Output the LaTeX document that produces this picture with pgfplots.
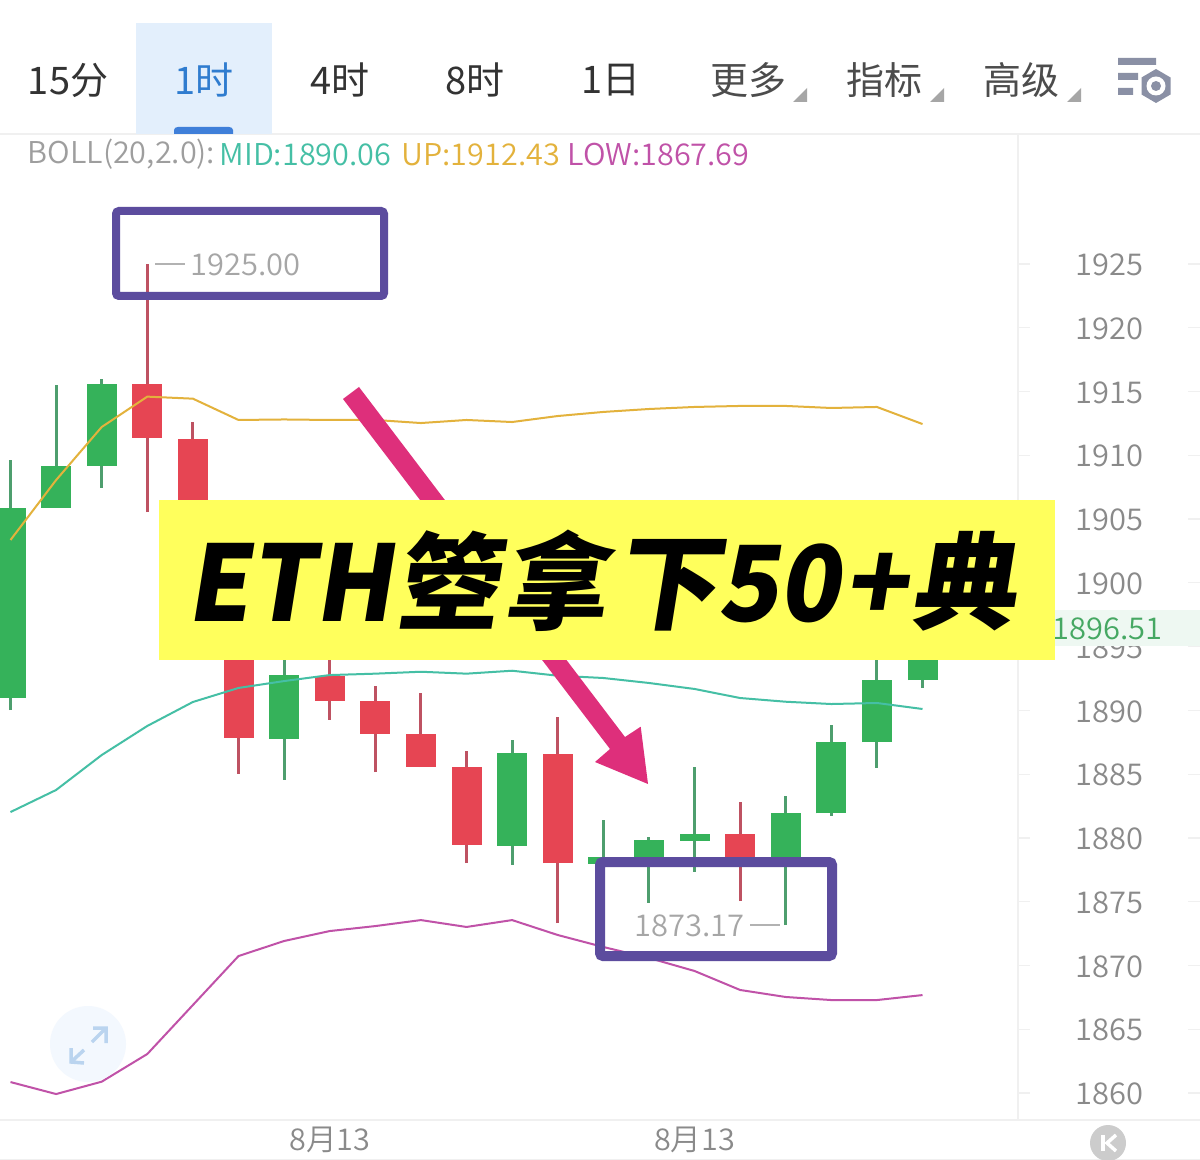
\documentclass[border=0pt]{standalone}
\usepackage{fontspec}
\usepackage{pgfplots}
\pgfplotsset{compat=1.18}
\setmainfont{Noto Sans CJK SC}
\newfontfamily\ui[FakeStretch=1.03]{Noto Sans CJK SC DemiLight}
\newfontfamily\uiw[FakeStretch=1.02]{Noto Sans CJK SC DemiLight}
\newfontfamily\tabf{Noto Sans CJK SC}
\newfontfamily\banner[FakeSlant=0.16]{Noto Sans CJK SC Black}
\newfontfamily\bannerL[FakeSlant=0.16,FakeStretch=0.955]{Noto Sans CJK SC Black}
\newcommand\fs[1]{\fontsize{\dimexpr#1pt*2845/10000\relax}{\dimexpr#1pt*2845/10000\relax}\selectfont}
\newcommand\pxk[1]{\kern\dimexpr#1pt*2845/10000\relax}
\definecolor{cgreen}{HTML}{35B25A}
\definecolor{cgreenw}{HTML}{4E9E6E}
\definecolor{cred}{HTML}{E64553}
\definecolor{credw}{HTML}{BE5262}
\definecolor{cup}{HTML}{E3B23C}
\definecolor{cmid}{HTML}{45BFA5}
\definecolor{clow}{HTML}{C052A8}
\definecolor{cframe}{HTML}{5C4C9E}
\definecolor{carrow}{HTML}{DE2F7B}
\definecolor{cyel}{HTML}{FFFF5C}
\definecolor{ctab}{HTML}{E3EFFC}
\definecolor{cblue}{HTML}{2F7CCF}
\definecolor{cind}{HTML}{3F7FD9}
\definecolor{ctag}{HTML}{EEF8F2}
\definecolor{ctick}{HTML}{8A8A8A}
\definecolor{cline}{HTML}{F0F0F0}
\definecolor{cicon}{HTML}{8A90A5}
% x, high, body top, body bottom, low, body colour, wick colour
\newcommand\candle[7]{%
  \addplot[forget plot,#7,line width=0.3mm,line cap=butt] coordinates {(#1,#5)(#1,#2)};
  \addplot[forget plot,#6,line width=3mm,line cap=butt] coordinates {(#1,#4)(#1,#3)};}
\begin{document}
\begin{tikzpicture}
\useasboundingbox (0,0) rectangle (120mm,116mm);
\fill[white] (0,0) rectangle (120mm,116mm);
\begin{axis}[
  at={(0,0)},anchor=south west,
  width=120mm,height=116mm,scale only axis,
  xmin=-0.2303,xmax=26.085,ymin=1854.75,ymax=1945.70,
  axis line style={draw=none},major tick length=0pt,
  ytick={1860,1865,1870,1875,1880,1885,1890,1895,1900,1905,1910,1915,1920,1925},
  yticklabels={1860,1865,1870,1875,1880,1885,1890,1895,1900,1905,1910,1915,1920,1925},
  yticklabel pos=right,
  yticklabel style={anchor=east,xshift=-4.4mm,yshift=-0.1mm,font=\ui\fs{30},text=ctick},
  xtick={7,15},xticklabels={8月13,8月13},
  xticklabel style={anchor=center,yshift=2mm,font=\uiw\fs{30},text=ctick},
]
\candle{0}{1909.63}{1905.89}{1890.97}{1890.03}{cgreen}{cgreenw}
\candle{1}{1915.54}{1909.19}{1905.87}{1905.87}{cgreen}{cgreenw}
\candle{2}{1915.98}{1915.59}{1909.19}{1907.46}{cgreen}{cgreenw}
\candle{3}{1925.00}{1915.59}{1911.36}{1905.55}{cred}{credw}
\candle{4}{1912.61}{1911.30}{1898.66}{1898.00}{cred}{credw}
\candle{5}{1899.00}{1898.66}{1887.84}{1885.04}{cred}{credw}
\candle{6}{1895.52}{1892.77}{1887.78}{1884.57}{cgreen}{cgreenw}
\candle{7}{1895.52}{1892.72}{1890.74}{1889.27}{cred}{credw}
\candle{8}{1891.91}{1890.74}{1888.17}{1885.17}{cred}{credw}
\candle{9}{1891.36}{1888.15}{1885.58}{1885.55}{cred}{credw}
\candle{10}{1886.82}{1885.56}{1879.45}{1878.03}{cred}{credw}
\candle{11}{1887.68}{1886.66}{1879.37}{1877.88}{cgreen}{cgreenw}
\candle{12}{1889.48}{1886.58}{1878.03}{1873.33}{cred}{credw}
\candle{13}{1881.41}{1878.50}{1877.96}{1877.96}{cgreen}{cgreenw}
\candle{14}{1880.10}{1879.84}{1878.27}{1874.90}{cgreen}{cgreenw}
\candle{15}{1885.56}{1880.33}{1879.78}{1877.33}{cgreen}{cgreenw}
\candle{16}{1882.84}{1880.31}{1878.27}{1875.05}{cred}{credw}
\candle{17}{1883.29}{1881.95}{1878.27}{1873.17}{cgreen}{cgreenw}
\candle{18}{1888.88}{1887.54}{1881.93}{1881.74}{cgreen}{cgreenw}
\candle{19}{1895.52}{1892.38}{1887.52}{1885.51}{cgreen}{cgreenw}
\candle{20}{1897.00}{1896.51}{1892.38}{1891.78}{cgreen}{cgreenw}
\addplot[cup,line width=0.2mm] coordinates {
(0,1903.36)(1,1908.06)(2,1912.22)(3,1914.60)(4,1914.44)(5,1912.77)(6,1912.81)
(7,1912.77)(8,1912.77)(9,1912.53)(10,1912.77)(11,1912.61)(12,1913.08)(13,1913.40)
(14,1913.63)(15,1913.79)(16,1913.87)(17,1913.87)(18,1913.71)(19,1913.79)(20,1912.45)};
\addplot[cmid,line width=0.2mm] coordinates {
(0,1882.03)(1,1883.76)(2,1886.50)(3,1888.78)(4,1890.66)(5,1891.76)(6,1892.30)
(7,1892.77)(8,1892.88)(9,1893.03)(10,1892.88)(11,1893.11)(12,1892.72)(13,1892.54)
(14,1892.15)(15,1891.68)(16,1890.97)(17,1890.68)(18,1890.50)(19,1890.58)(20,1890.11)};
\addplot[clow,line width=0.2mm] coordinates {
(0,1860.86)(1,1859.92)(2,1860.89)(3,1863.06)(4,1866.90)(5,1870.74)(6,1871.92)
(7,1872.70)(8,1873.09)(9,1873.56)(10,1873.02)(11,1873.56)(12,1872.39)(13,1871.45)
(14,1870.59)(15,1869.57)(16,1868.08)(17,1867.53)(18,1867.29)(19,1867.29)(20,1867.68)};
\end{axis}
\begin{scope}[x=0.1mm,y=-0.1mm,shift={(0,116mm)}]
% grid furniture
\draw[cline,line width=0.12mm] (0,134)--(1200,134) (1018,134)--(1018,1120) (0,1120)--(1200,1120) (0,1159.5)--(1200,1159.5);
\foreach \y in {264,327.8,391.5,455.3,519.1,582.9,646.6,710.4,774.2,838,901.7,965.5,1029.3,1093}
  \draw[cline,line width=0.12mm] (1018,\y)--(1030,\y) (1188,\y)--(1200,\y);
% tabs
\fill[ctab] (136,23) rectangle (272,134);
\fill[cind] (174,134) -- (174,130) to[out=90,in=180] (178,127) -- (229,127) to[out=0,in=90] (233,130) -- (233,134) -- cycle;
\begin{scope}[every node/.style={inner sep=0,anchor=center,font=\tabf\fs{38}}]
\node[text=black!80] at (68,80) {15分};
\node[text=cblue] at (204,80) {1时};
\node[text=black!80] at (340,80) {4时};
\node[text=black!80] at (475,80) {8时};
\node[text=black!80] at (611,80) {1日};
\node[text=black!70] at (748,80) {更多};
\node[text=black!70] at (884,80) {指标};
\node[text=black!70] at (1021,80) {高级};
\end{scope}
\foreach \x in {793,930,1067}
  \fill[black!35] (\x,102)--(\x+14,102)--(\x+14,88)--cycle;
% settings icon
\fill[cicon] (1118,58) rectangle (1156,65) (1118,73) rectangle (1138,80) (1118,88) rectangle (1133,95);
\fill[cicon] (1156,69)--(1170.5,77.5)--(1170.5,94.5)--(1156,103)--(1141.5,94.5)--(1141.5,77.5)--cycle;
\fill[white] (1156,86) circle (9.5);
\fill[cicon] (1156,86) circle (5);
% BOLL legend
\begin{scope}[every node/.style={inner sep=0,anchor=west,font=\uiw\fs{30}}]
\node[text=black!38] at (27,154.5) {BOLL(20,2.0):};
\node[text=cmid] at (219,154.5) {MID:1890.06};
\node[text=cup] at (401,154.5) {UP:1912.43};
\node[text=clow] at (567,154.5) {LOW:1867.69};
\end{scope}
% arrow
\fill[carrow] (343,399)--(359,387)--(625,737)--(640.7,726.7)--(648,784)--(595,762)--(610,749)--cycle;
% price tag
\fill[ctag] (1055,610) rectangle (1200,646);
\node[inner sep=0,anchor=east,font=\ui\fs{30},text=cgreenw!90!green] at (1163,628.5) {1896.51};
% banner
\fill[cyel] (159,500) rectangle (1055,660);
\node[inner sep=0,anchor=west,font=\banner\fs{105}] at (186,581) {{\bannerL\fs{105}ETH}\pxk{3}箜\pxk{3}拿\pxk{7}下\pxk{-2}{\bannerL\fs{105}50}\pxk{4}+\pxk{3}典};
% frames
\draw[cframe,line width=0.8mm,rounded corners=0.3mm] (116,211) rectangle (384,296);
\draw[cframe,line width=1mm,rounded corners=0.3mm] (600,862) rectangle (832,956);
% hi/lo labels
\draw[black!30,line width=0.12mm] (155,264)--(185,264) (750,925)--(780,925);
\node[inner sep=0,anchor=west,font=\ui\fs{30},text=black!35] at (190,264.5) {1925.00};
\node[inner sep=0,anchor=east,font=\ui\fs{30},text=black!35] at (745.5,925.5) {1873.17};
% expand button
\fill[ctab!45!white] (88,1044) circle (38);
\draw[ctab!30!cblue!45!white,line width=0.35mm] (92,1042)--(106,1028) (93,1028)--(106,1028)--(106,1043)
  (84,1050)--(71,1062) (71,1048)--(71,1062)--(84,1063);
% back button
\fill[black!20] (1108,1143) circle (18);
\fill[white] (1101,1135) rectangle (1105,1151);
\draw[white,line width=0.35mm] (1116,1135)--(1107,1143)--(1116,1151);
\end{scope}
\end{tikzpicture}
\end{document}
